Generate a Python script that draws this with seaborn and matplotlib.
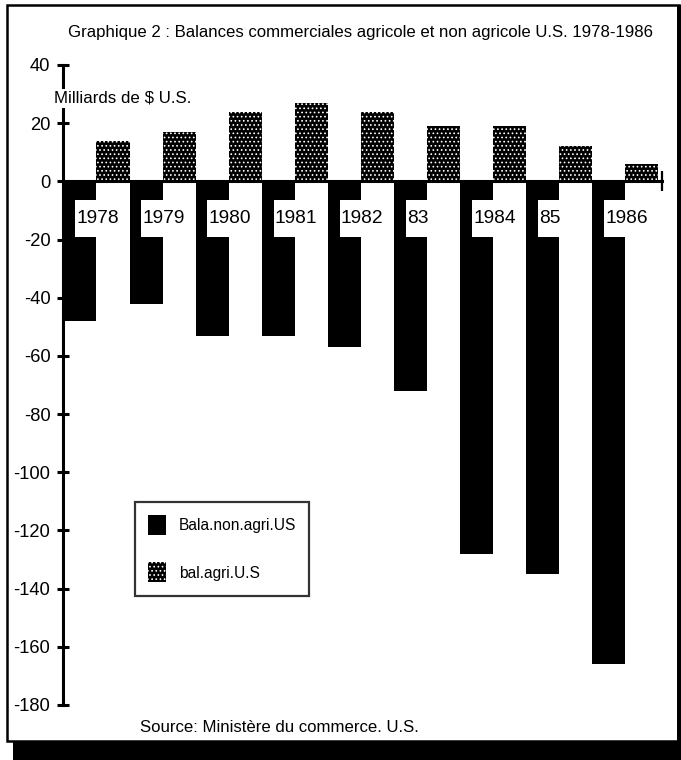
import pandas as pd
import seaborn as sns
import matplotlib.pyplot as plt
from matplotlib.patches import Rectangle

years = ["1978", "1979", "1980", "1981", "1982", "1983", "1984", "1985", "1986"]
year_labels = ["1978", "1979", "1980", "1981", "1982", "83", "1984", "85", "1986"]
non_agri = [-48, -42, -53, -53, -57, -72, -128, -135, -166]
agri = [14, 17, 24, 27, 24, 19, 19, 12, 6]
series = ["Bala.non.agri.US", "bal.agri.U.S"]
y_ticks = [40, 20, 0, -20, -40, -60, -80, -100, -120, -140, -160, -180]

sns.set_style("white")
plt.rcParams["font.family"] = ["Liberation Sans", "DejaVu Sans"]
plt.rcParams["axes.unicode_minus"] = False
plt.rcParams["text.color"] = "black"
plt.rcParams["ytick.color"] = "black"
plt.rcParams["xtick.color"] = "black"
plt.rcParams["axes.edgecolor"] = "black"
plt.rcParams["hatch.linewidth"] = 0.7
plt.rcParams["hatch.color"] = "white"

df = pd.DataFrame({
    "year": years * 2,
    "serie": [series[0]] * len(years) + [series[1]] * len(years),
    "value": non_agri + agri,
})

fig = plt.figure(figsize=(6.81, 7.6), dpi=100)
ax = fig.add_axes([0.0932, 0.0724, 0.8788, 0.8421])

sns.barplot(data=df, x="year", y="value", hue="serie", order=years,
            hue_order=series, palette=["black", "black"], width=1.0,
            saturation=1, ax=ax, legend=False)

for bar in ax.containers[0]:
    bar.set_linewidth(0)
for bar in ax.containers[1]:
    bar.set_hatch("....")
    if hasattr(bar, "set_hatchcolor"):
        bar.set_edgecolor("black")
        bar.set_hatchcolor("white")
        bar.set_linewidth(1.5)
    else:
        bar.set_edgecolor("white")
        bar.set_linewidth(0)

ax.set_ylim(-180, 40)
x_end = len(years) - 0.44
ax.set_xlim(-0.5, x_end)
ax.set_yticks(y_ticks)
ax.set_yticklabels([str(v) for v in y_ticks], fontsize=13.2)
ax.set_xticks([x_end])
ax.set_xticklabels([""])
ax.set_xlabel("")
ax.set_ylabel("")

for side in ["top", "right"]:
    ax.spines[side].set_visible(False)
ax.spines["left"].set_linewidth(2.2)
ax.spines["bottom"].set_linewidth(2.2)
ax.spines["bottom"].set_position(("data", 0))
ax.tick_params(axis="y", left=True, direction="inout", length=9, width=2.2, pad=5)
ax.tick_params(axis="x", bottom=True, direction="inout", length=14, width=1.6)

# year labels in white boxes below the zero line
for i, lab in enumerate(year_labels):
    x0 = i - 0.5 + 0.18
    ax.add_patch(Rectangle((x0, -19), i + 0.5 - x0, 12.5, facecolor="white",
                           edgecolor="none", zorder=3))
    ax.text(x0 + 0.02, -12.8, lab, fontsize=13.8, ha="left", va="center", zorder=4)

ax.text(-0.64, 28.5, "Milliards de $ U.S.", fontsize=12.2, ha="left", va="center",
        zorder=5, clip_on=False,
        bbox=dict(facecolor="white", edgecolor="none", pad=1.5))

handles = [ax.containers[0][0], ax.containers[1][0]]
leg = ax.legend(handles, series, loc="upper left",
                bbox_to_anchor=(135 / 681, 1 - 502 / 760),
                bbox_transform=fig.transFigure, fontsize=11.2, frameon=True,
                fancybox=False, edgecolor="black", handlelength=1.15,
                handleheight=1.6, labelspacing=1.75, handletextpad=0.8,
                borderpad=0.85, borderaxespad=0)
leg.get_frame().set_linewidth(1.6)

fig.text(68 / 681, 1 - 33 / 760,
         "Graphique 2 : Balances commerciales agricole et non agricole U.S. 1978-1986",
         fontsize=12.1, ha="left", va="center")
fig.text(140 / 681, 1 - 727 / 760, "Source: Ministère du commerce. U.S.",
         fontsize=12.1, ha="left", va="center")

# page frame with black shadow
fig.patches.append(Rectangle((7 / 681, 1 - 741 / 760), 672 / 681, 736 / 760,
                             transform=fig.transFigure, fill=False,
                             edgecolor="black", linewidth=1.8))
fig.patches.append(Rectangle((13 / 681, 0), 668 / 681, 18 / 760,
                             transform=fig.transFigure, facecolor="black",
                             edgecolor="none"))
fig.patches.append(Rectangle((677 / 681, 0), 4 / 681, 755 / 760,
                             transform=fig.transFigure, facecolor="black",
                             edgecolor="none"))

fig.savefig("out.png", dpi=100)
